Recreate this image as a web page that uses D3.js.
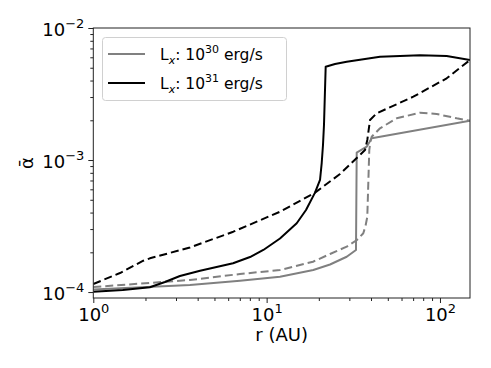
<!DOCTYPE html>
<html>
<head>
<meta charset="utf-8">
<script src="https://cdn.jsdelivr.net/npm/d3@7"></script>
<style>
  body { margin: 0; background: #fff; }
  svg text { font-family: "DejaVu Sans", sans-serif; fill: #000; }
</style>
</head>
<body>
<svg id="chart" width="491" height="368"></svg>
<script>
// r in AU, alpha-bar values
const rHiSolid = [1, 1.48, 2.12, 2.59, 3.16, 4.13, 6.40, 8.02, 9.57, 11.94, 14.91, 16.87, 19.01, 20.32, 20.78, 21.14, 21.42, 21.71, 21.91, 24.80, 28.97, 45.08, 76.70, 109.3, 149]
const aHiSolid = [1.007e-4, 1.037e-4, 1.087e-4, 1.191e-4, 1.323e-4, 1.452e-4, 1.652e-4, 1.842e-4, 2.083e-4, 2.545e-4, 3.318e-4, 4.18e-4, 5.66e-4, 7.06e-4, 9.49e-4, 1.30e-3, 1.842e-3, 3.391e-3, 5.09e-3, 5.34e-3, 5.55e-3, 6.06e-3, 6.21e-3, 6.14e-3, 5.72e-3]

const rHiDashed = [1, 1.426, 1.943, 2.12, 3.61, 6.42, 11.94, 19.01, 26.5, 36.94, 38.08, 39.48, 43.15, 70.17, 109.3, 149]
const aHiDashed = [1.151e-4, 1.394e-4, 1.727e-4, 1.801e-4, 2.175e-4, 2.865e-4, 4.06e-4, 5.66e-4, 7.84e-4, 1.191e-3, 1.418e-3, 2.010e-3, 2.259e-3, 3.018e-3, 4.16e-3, 5.72e-3]

const rLoSolid = [1, 3.61, 7.02, 11.94, 18.58, 23.21, 28.97, 32.77, 33.08, 37.78, 40.37, 149]
const aLoSolid = [1.046e-4, 1.131e-4, 1.219e-4, 1.307e-4, 1.469e-4, 1.617e-4, 1.852e-4, 2.083e-4, 1.136e-3, 1.262e-3, 1.461e-3, 1.986e-3]

const rLoDashed = [1, 3.61, 7.02, 11.94, 18.51, 23.21, 28.97, 33.17, 36.11, 37.19, 38.08, 38.59, 39.10, 39.63, 40.37, 45.08, 56.28, 76.70, 95.72, 124.9, 149]
const aLoDashed = [1.092e-4, 1.234e-4, 1.370e-4, 1.469e-4, 1.697e-4, 1.942e-4, 2.206e-4, 2.478e-4, 2.786e-4, 3.165e-4, 3.722e-4, 6.66e-4, 1.191e-3, 1.369e-3, 1.502e-3, 1.739e-3, 2.071e-3, 2.283e-3, 2.232e-3, 2.071e-3, 1.986e-3]

const xMajor = [1, 10, 100]
const xMajorExp = ['0', '1', '2']
const yMajor = [1e-4, 1e-3, 1e-2]
const yMajorExp = ['\u22124', '\u22123', '\u22122']
const legendExp = ['30', '31']

const svg = d3.select('#chart')
const pLeft = 93.3, pRight = 470, pTop = 28, pBottom = 298

const x = d3.scaleLog().domain([1, 149]).range([pLeft, pRight])
const y = d3.scaleLog().domain([Math.pow(10, -4.045), 1e-2]).range([pBottom, pTop])

const line = d3.line().x(d => x(d[0])).y(d => y(d[1]))
const zip = (a, b) => a.map((v, i) => [v, b[i]])

const series = [
  { r: rLoSolid, a: aLoSolid, color: '#808080', dash: null },
  { r: rLoDashed, a: aLoDashed, color: '#808080', dash: '8,4' },
  { r: rHiSolid, a: aHiSolid, color: '#000', dash: null },
  { r: rHiDashed, a: aHiDashed, color: '#000', dash: '8,4' }
]

svg.append('clipPath').attr('id', 'clip')
  .append('rect').attr('x', pLeft).attr('y', pTop).attr('width', pRight - pLeft).attr('height', pBottom - pTop)

const plot = svg.append('g').attr('clip-path', 'url(#clip)')
series.forEach(s => {
  plot.append('path')
    .attr('d', line(zip(s.r, s.a)))
    .attr('fill', 'none')
    .attr('stroke', s.color)
    .attr('stroke-width', 2)
    .attr('stroke-dasharray', s.dash)
    .attr('stroke-linejoin', 'round')
})

// minor ticks
const xMinor = []
for (let d = 1; d <= 100; d *= 10) for (let k = 2; k <= 9; k++) if (d * k <= 149) xMinor.push(d * k)
const yMinor = []
for (let d = 1e-5; d <= 1e-3; d *= 10) for (let k = 2; k <= 9; k++) if (d * k >= y.domain()[0]) yMinor.push(d * k)

const axisStyle = g => {
  g.select('.domain').remove()
  g.selectAll('line').attr('stroke', '#222').attr('stroke-width', 1)
}

svg.append('g').attr('transform', `translate(0,${pBottom})`)
  .call(d3.axisBottom(x).tickValues(xMinor).tickSize(3).tickFormat(''))
  .call(axisStyle)
svg.append('g').attr('transform', `translate(${pLeft},0)`)
  .call(d3.axisLeft(y).tickValues(yMinor).tickSize(3).tickFormat(''))
  .call(axisStyle)

const xAx = svg.append('g').attr('transform', `translate(0,${pBottom})`)
  .call(d3.axisBottom(x).tickValues(xMajor).tickSize(5).tickFormat(''))
  .call(axisStyle)
xAx.selectAll('.tick').each(function (d, i) {
  const t = d3.select(this).append('text')
    .attr('y', 23).attr('text-anchor', 'middle').style('font-size', '18px')
  t.append('tspan').text('10')
  t.append('tspan').attr('dy', -8).style('font-size', '13px').text(xMajorExp[i])
})

const yAx = svg.append('g').attr('transform', `translate(${pLeft},0)`)
  .call(d3.axisLeft(y).tickValues(yMajor).tickSize(5).tickFormat(''))
  .call(axisStyle)
yAx.selectAll('.tick').each(function (d, i) {
  const t = d3.select(this).append('text')
    .attr('x', -9).attr('y', 7).attr('text-anchor', 'end').style('font-size', '18px')
  t.append('tspan').text('10')
  t.append('tspan').attr('dy', -8).style('font-size', '13px').text(yMajorExp[i])
})

// frame
svg.append('rect')
  .attr('x', pLeft).attr('y', pTop).attr('width', pRight - pLeft).attr('height', pBottom - pTop)
  .attr('fill', 'none').attr('stroke', '#222').attr('stroke-width', 1)

// axis labels
svg.append('text').attr('x', (pLeft + pRight) / 2).attr('y', 341)
  .attr('text-anchor', 'middle').style('font-size', '18px').text('r (AU)')
svg.append('text').attr('transform', `translate(33,${(pTop + pBottom) / 2}) rotate(-90)`)
  .attr('text-anchor', 'middle').style('font-size', '18px').text('\u1FB1')

// legend
const lg = svg.append('g')
lg.append('rect').attr('x', 102.5).attr('y', 37.5).attr('width', 184).attr('height', 63).attr('rx', 3)
  .attr('fill', '#fff').attr('fill-opacity', 0.8).attr('stroke', '#d0d0d0')
const legendColors = ['#808080', '#000']
legendColors.forEach((c, i) => {
  const yy = 54 + i * 29
  lg.append('line').attr('x1', 108).attr('x2', 145).attr('y1', yy).attr('y2', yy)
    .attr('stroke', c).attr('stroke-width', 2)
  const t = lg.append('text').attr('x', 160).attr('y', yy + 6).style('font-size', '15.5px')
  t.append('tspan').text('L')
  t.append('tspan').attr('dy', 4).style('font-size', '11px').style('font-style', 'italic').text('x')
  t.append('tspan').attr('dy', -4).text(': 10')
  t.append('tspan').attr('dy', -7).style('font-size', '11px').text(legendExp[i])
  t.append('tspan').attr('dy', 7).text(' erg/s')
})
</script>
</body>
</html>
